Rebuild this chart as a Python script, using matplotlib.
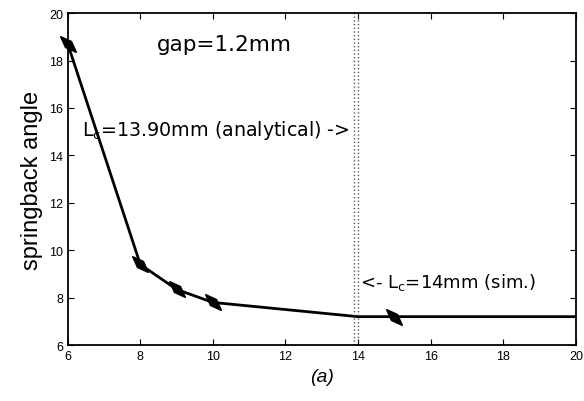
import numpy as np
import matplotlib
matplotlib.use("Agg")
import matplotlib.pyplot as plt
from matplotlib.markers import MarkerStyle
from matplotlib.transforms import Affine2D

plt.rcParams['font.family'] = ['Liberation Sans', 'DejaVu Sans']

# data
gap_len = [6, 8, 9, 10, 14, 15, 20]
springback = [18.7, 9.4, 8.35, 7.8, 7.2, 7.2, 7.2]
mark_len = [6, 8, 9, 10, 15]
mark_val = [18.7, 9.4, 8.35, 7.8, 7.2]
lc_analytical = 13.90
lc_sim = 14.0

fig = plt.figure(figsize=(5.84, 4.02), dpi=100)
ax = fig.add_axes([0.116, 0.139, 0.870, 0.826])

ax.plot(gap_len, springback, color='k', linewidth=2)
mk = MarkerStyle('d', transform=Affine2D().scale(0.6, 1.0).rotate_deg(45))
ax.plot(mark_len, mark_val, linestyle='none', marker=mk, markersize=11,
        color='k', clip_on=False)

ax.axvline(lc_analytical, color='0.35', linestyle=':', linewidth=1)
ax.axvline(lc_sim, color='0.35', linestyle=':', linewidth=1)

txt = dict(family='DejaVu Sans', va='center', ha='left')
ax.text(8.45, 18.7, "gap=1.2mm", fontsize=15.5, **txt)
ax.text(6.39, 15.1, r"L$_\mathrm{c}$=13.90mm (analytical) ->", fontsize=13.7,
        **txt)
ax.text(14.05, 8.7, r"<- L$_\mathrm{c}$=14mm (sim.)", fontsize=13, **txt)

ax.set_xlim(6, 20)
ax.set_ylim(6, 20)
ax.set_xticks(np.arange(6, 21, 2))
ax.set_yticks(np.arange(6, 21, 2))
ax.tick_params(direction='in', top=True, right=True, labelsize=9, length=4)
ax.set_ylabel("springback angle", fontsize=17)
ax.set_xlabel("(a)", fontsize=14, style='italic')
for s in ax.spines.values():
    s.set_linewidth(1.3)

fig.savefig("out.png", dpi=100)
